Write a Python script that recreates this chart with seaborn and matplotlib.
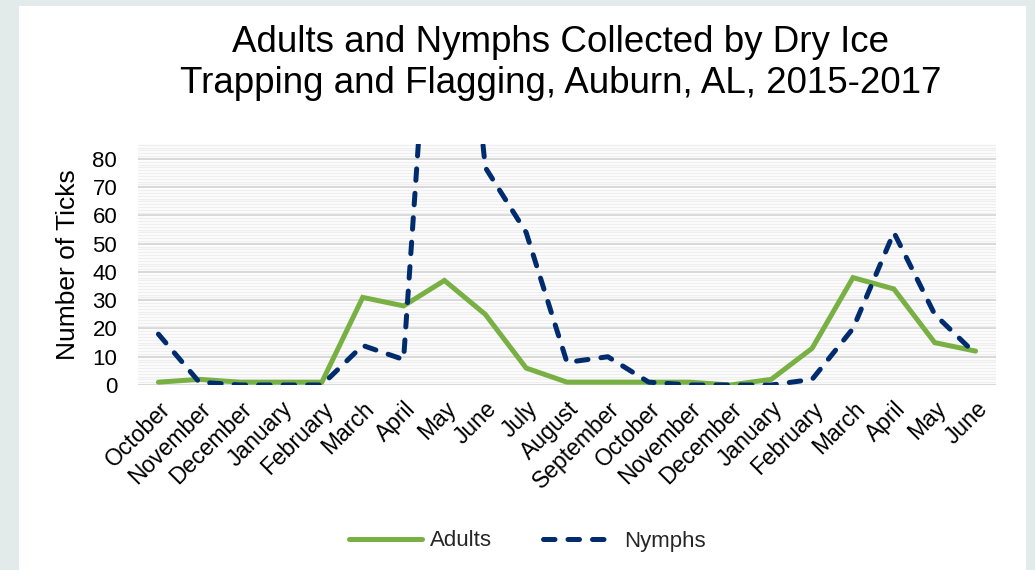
import matplotlib
matplotlib.use("Agg")
import matplotlib.pyplot as plt
from matplotlib.patches import Rectangle
from matplotlib.ticker import MultipleLocator
import seaborn as sns
import pandas as pd

# Monthly collections, October 2015 through June 2017
months = ["October", "November", "December", "January", "February", "March",
          "April", "May", "June", "July", "August", "September", "October",
          "November", "December", "January", "February", "March", "April",
          "May", "June"]
adults = [1, 2, 1, 1, 1, 31, 28, 37, 25, 6, 1, 1, 1, 1, 0, 2, 13, 38, 34, 15, 12]
nymphs = [18, 1, 0, 0, 0, 14, 9, 220, 77, 54, 8, 10, 1, 0, 0, 0, 2, 20, 54, 25, 11]
series_names = ["Adults", "Nymphs"]

idx = list(range(len(months)))
df = pd.DataFrame({
    "month": idx * 2,
    "count": adults + nymphs,
    "stage": [series_names[0]] * len(idx) + [series_names[1]] * len(idx),
})

sns.set_theme(style="white")
plt.rcParams["font.family"] = ["Liberation Sans", "DejaVu Sans"]

W, H = 1035, 570
fig = plt.figure(figsize=(W / 100, H / 100), dpi=100)
fig.patch.set_facecolor("#E3EAEA")
fig.patches.append(Rectangle((19 / W, 0), (1026 - 19) / W, (H - 6) / H,
                             transform=fig.transFigure, facecolor="white",
                             edgecolor="none", zorder=-1))

ax = fig.add_axes([138 / W, (H - 385) / H, (996 - 138) / W, (385 - 144) / H])
ax.set_facecolor("white")

green = "#78B043"
navy = "#002C6E"
lw = 3.6
nymph_dash = (2.3, 2.6)
sns.lineplot(data=df, x="month", y="count", hue="stage", style="stage",
             palette={"Adults": green, "Nymphs": navy},
             dashes={"Adults": "", "Nymphs": nymph_dash},
             linewidth=lw, ax=ax, legend=False, zorder=3,
             dash_capstyle="round", solid_capstyle="round",
             solid_joinstyle="miter")

ax.set_xlim(-0.5, len(months) - 0.5)
ax.set_ylim(0, 85.3)
ax.yaxis.set_major_locator(MultipleLocator(10))
ax.yaxis.set_minor_locator(MultipleLocator(1))
ax.grid(axis="y", which="major", color="#D9D9D9", linewidth=1.5, zorder=1)
ax.grid(axis="y", which="minor", color="#EFEFEF", linewidth=1.0, zorder=0)
ax.grid(axis="x", visible=False)
for s in ax.spines.values():
    s.set_visible(False)

ax.set_xticks(idx)
ax.set_xticklabels(months, rotation=45, ha="right", rotation_mode="anchor",
                   fontsize=16.5, color="#000000")
ax.tick_params(axis="x", length=0, pad=9)
ax.tick_params(axis="y", which="both", length=0, pad=15, labelsize=16,
               labelcolor="#000000")
ax.set_xlabel("")
ax.set_ylabel("Number of Ticks", fontsize=19, color="#000000", labelpad=9)

fig.text(561 / W, 1 - 63 / H,
         "Adults and Nymphs Collected by Dry Ice\nTrapping and Flagging, Auburn, AL, 2015-2017",
         ha="center", va="center", fontsize=26.5, color="#000000", linespacing=1.25)

handles = [plt.Line2D([], [], color=green, lw=lw, solid_capstyle="round"),
           plt.Line2D([], [], color=navy, lw=lw, dashes=nymph_dash,
                      dash_capstyle="round")]
fig.legend(handles, series_names, loc="center", bbox_to_anchor=(527 / W, 1 - 541 / H),
           ncol=2, frameon=False, fontsize=16, handlelength=3.3,
           columnspacing=2.3, handletextpad=0.35)

fig.savefig("out.png", dpi=100, facecolor=fig.get_facecolor())
